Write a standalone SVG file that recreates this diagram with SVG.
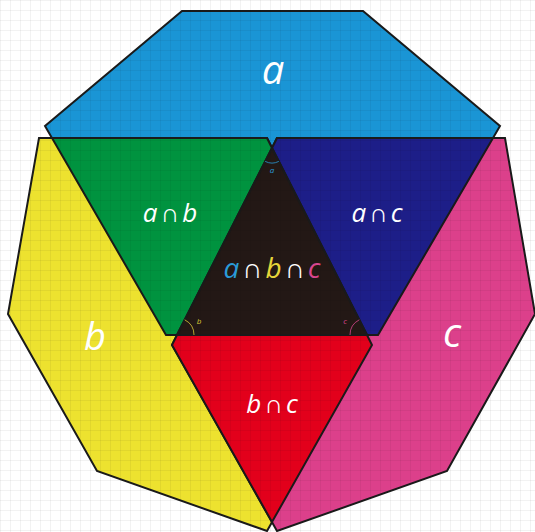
<svg xmlns="http://www.w3.org/2000/svg" width="535" height="532" viewBox="0 0 535 532">
  <defs>
    <pattern id="grid" width="10" height="10" patternUnits="userSpaceOnUse">
      <path d="M10 0 L0 0 0 10" fill="none" stroke="#000" stroke-opacity="0.1" stroke-width="1"/>
    </pattern>
    <style>
      .sh { stroke: #1a1a1a; stroke-width: 2; stroke-linejoin: miter; }
      .lbl { font-family: "Open Sans", "DejaVu Sans", sans-serif; font-style: italic; fill: #ffffff; text-anchor: middle; }
      .cap { font-style: normal; font-family: "DejaVu Sans", sans-serif; font-weight: 300; }
      .arc { fill: none; stroke-width: 0.8; }
      .tiny { font-family: "Open Sans", "DejaVu Sans", sans-serif; font-style: italic; font-size: 8px; text-anchor: middle; }
    </style>
  </defs>
  <rect width="535" height="532" fill="#ffffff"/>
  <g id="set-a"><polygon class="sh" fill="#1a95d5" points="182,11 363,11 500,126 378,335 166,335 45,126"/></g>
  <g id="set-b"><polygon class="sh" fill="#ede22f" points="39,138 267,138 372,345 267,531 97,471 8,314"/></g>
  <g id="set-c"><polygon class="sh" fill="#dc408b" points="505,138 277,138 172,345 277,531 447,471 535,314"/></g>
  <g id="a-and-b"><polygon class="sh" fill="#00933f" points="52,138 267,138 272,148 177,335 166,335"/></g>
  <g id="a-and-c"><polygon class="sh" fill="#1d1e88" points="277,138 493,138 378,335 367,335 272,148"/></g>
  <g id="b-and-c"><polygon class="sh" fill="#e2001b" points="177,335 367,335 372,345 272,522 172,345"/></g>
  <g id="a-and-b-and-c"><polygon class="sh" fill="#231815" points="272,148 367,335 177,335"/></g>
  <rect width="535" height="532" fill="url(#grid)"/>
  <g id="angles">
    <path class="arc" stroke="#2a9bd8" d="M265.2,161.4 A15,15 0 0 0 278.8,161.4"/>
    <text class="tiny" x="272" y="173" fill="#2a9bd8">a</text>
    <path class="arc" stroke="#d9c938" d="M194,335 A17,17 0 0 0 184.7,319.8"/>
    <text class="tiny" x="199" y="324" fill="#d9c938">b</text>
    <path class="arc" stroke="#d9468e" d="M350,335 A17,17 0 0 1 359.3,319.8"/>
    <text class="tiny" x="345" y="324" fill="#d9468e">c</text>
  </g>
  <g id="labels">
    <text class="lbl" x="273" y="84" font-size="40">a</text>
    <text class="lbl" x="95" y="350" font-size="38">b</text>
    <text class="lbl" x="452" y="347" font-size="40">c</text>
    <text class="lbl" x="170" y="222" font-size="26">a<tspan class="cap" dx="3">∩</tspan><tspan dx="3">b</tspan></text>
    <text class="lbl" x="377" y="222" font-size="26">a<tspan class="cap" dx="3">∩</tspan><tspan dx="3">c</tspan></text>
    <text class="lbl" x="272" y="413" font-size="26">b<tspan class="cap" dx="3">∩</tspan><tspan dx="3">c</tspan></text>
    <text class="lbl" x="272" y="278" font-size="28"><tspan fill="#2a9bd8">a</tspan><tspan class="cap" dx="3">∩</tspan><tspan dx="3" fill="#e6d53a">b</tspan><tspan class="cap" dx="3">∩</tspan><tspan dx="3" fill="#d9468e">c</tspan></text>
  </g>
</svg>
